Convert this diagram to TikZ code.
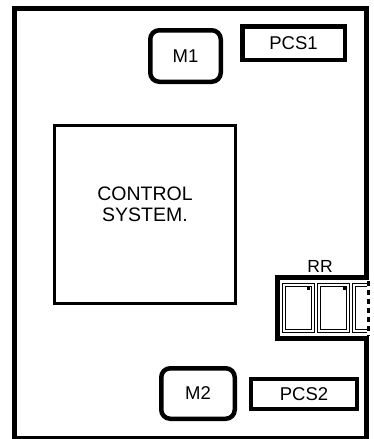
\documentclass[tikz,border=0pt]{standalone}
\usepackage{fontspec}
\setmainfont{Liberation Sans}
\usepackage{tikz}
\usetikzlibrary{positioning}
\tikzset{
  box/.style={rectangle, draw, line width=4.5pt, inner sep=0pt, font=\fontsize{18.5}{20}\selectfont},
  motor/.style={box, rounded corners=9pt},
  pcs/.style={box},
  ctrlbox/.style={rectangle, draw, line width=3pt, inner sep=0pt},
  drawer/.style={rectangle, draw, line width=1.2pt, double, double distance=1.4pt, inner sep=0pt, minimum width=29.2pt, minimum height=46.2pt},
  lbl/.style={inner sep=0pt, align=center, font=\fontsize{19.5}{20.5}\selectfont},
  wall/.style={line width=5pt}
}

\begin{document}
\begin{tikzpicture}[x=1pt, y=-1pt]
\useasboundingbox (0,0) rectangle (373,439);
% room walls, right side open at the rack
\draw[wall] (366.5,277.5) -- (366.5,8.5) -- (14.5,8.5) -- (14.5,438.5) -- (366.5,438.5) -- (366.5,338.5);
\draw[line width=3pt, dash pattern=on 5pt off 4pt] (368,281) -- (368,336);

\node[motor, minimum width=70.5pt, minimum height=51.5pt] (m1) at (185.5,56) {M1};
\node[pcs, minimum width=102.5pt, minimum height=33.5pt] (pcs1) at (293.5,43) {PCS1};
\node[ctrlbox, minimum width=181pt, minimum height=178pt] (ctrl) at (145,214.5) {};
\node[lbl] (ctrltxt) at ([yshift=10pt]ctrl.center) {CONTROL\\SYSTEM.};
\node[motor, minimum width=73.5pt, minimum height=50.5pt] (m2) at (198,393.5) {M2};
\node[pcs, line width=4pt, minimum width=106pt, minimum height=30pt] (pcs2) at (304,394) {PCS2};

% rack RR
\node[lbl, font=\fontsize{17.5}{20}\selectfont] (rr) at (320,266) {RR};
\draw[wall] (369,277.5) -- (277.5,277.5) -- (277.5,338.5) -- (369,338.5);
\node[drawer] (drawer1) at (298.5,308) {};
\node[drawer] (drawer2) at (333.5,308) {};
\draw[line width=1.2pt, double, double distance=1.4pt] (367,284.9) -- (353.9,284.9) -- (353.9,331.1) -- (367,331.1);
\fill (306.5,285.5) rectangle (309.5,289.5);
\fill (342.5,285.5) rectangle (345.5,289.5);
\end{tikzpicture}
\end{document}
